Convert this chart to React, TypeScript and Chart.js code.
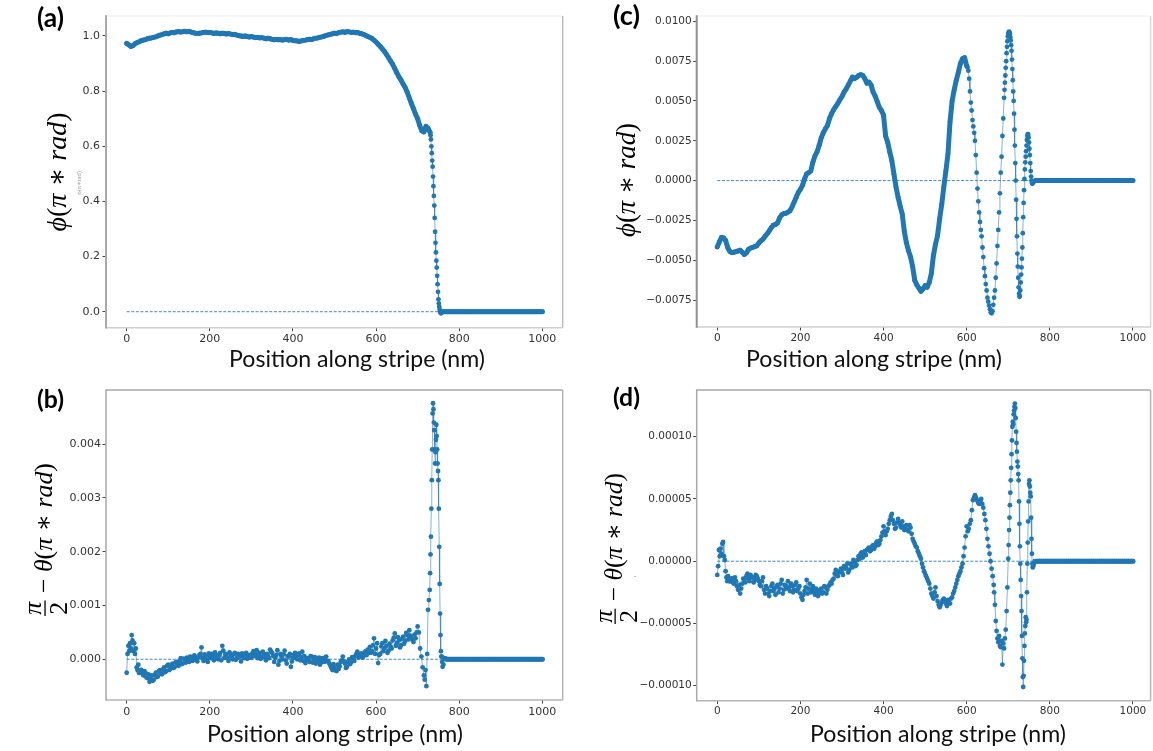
import React, { useEffect, useRef } from "react";
import { Chart, registerables } from "chart.js";
Chart.register(...registerables);

// ---------- shared axis data ----------
const xTicks = [0, 200, 400, 600, 800, 1000];
const xTickLabels = ["0", "200", "400", "600", "800", "1000"];
const zeroLineX = [0, 1000];
const zeroLineY = [0, 0];
// flat tail (all panels are zero past the stripe end)
const tailX = [770, 775, 780, 785, 790, 795, 800, 805, 810, 815, 820, 825, 830, 835, 840, 845, 850, 855, 860, 865, 870, 875, 880, 885, 890, 895, 900, 905, 910, 915, 920, 925, 930, 935, 940, 945, 950, 955, 960, 965, 970, 975, 980, 985, 990, 995, 1000];
const tailY = [0, 0, 0, 0, 0, 0, 0, 0, 0, 0, 0, 0, 0, 0, 0, 0, 0, 0, 0, 0, 0, 0, 0, 0, 0, 0, 0, 0, 0, 0, 0, 0, 0, 0, 0, 0, 0, 0, 0, 0, 0, 0, 0, 0, 0, 0, 0];
// in-between sample positions used by the noisy panels (b) and (d)
const xMid = [
  37.5, 42.5, 47.5, 52.5, 57.5, 62.5, 67.5, 72.5, 77.5, 82.5,
  87.5, 92.5, 97.5, 102.5, 107.5, 112.5, 117.5, 122.5, 127.5, 132.5,
  137.5, 142.5, 147.5, 152.5, 157.5, 162.5, 167.5, 172.5, 177.5, 182.5,
  187.5, 192.5, 197.5, 202.5, 207.5, 212.5, 217.5, 222.5, 227.5, 232.5,
  237.5, 242.5, 247.5, 252.5, 257.5, 262.5, 267.5, 272.5, 277.5, 282.5,
  287.5, 292.5, 297.5, 302.5, 307.5, 312.5, 317.5, 322.5, 327.5, 332.5,
  337.5, 342.5, 347.5, 352.5, 357.5, 362.5, 367.5, 372.5, 377.5, 382.5,
  387.5, 392.5, 397.5, 402.5, 407.5, 412.5, 417.5, 422.5, 427.5, 432.5,
  437.5, 442.5, 447.5, 452.5, 457.5, 462.5, 467.5, 472.5, 477.5, 482.5,
  487.5, 492.5, 497.5, 502.5, 507.5, 512.5, 517.5, 522.5, 527.5, 532.5,
  537.5, 542.5, 547.5, 552.5, 557.5, 562.5, 567.5, 572.5, 577.5, 582.5,
  587.5, 592.5, 597.5, 602.5, 607.5, 612.5, 617.5, 622.5, 627.5, 632.5,
  637.5, 642.5, 647.5, 652.5, 657.5, 662.5, 667.5, 672.5, 677.5, 682.5,
  687.5, 692.5, 697.5,
];

// ---------- panel (a): phi ----------
const aTicks = [0, 0.2, 0.4, 0.6, 0.8, 1.0];
const aTickLabels = ["0.0", "0.2", "0.4", "0.6", "0.8", "1.0"];
const xA = [
  0, 5, 10, 15, 20, 25, 30, 35, 40, 45,
  50, 55, 60, 65, 70, 75, 80, 85, 90, 95,
  100, 105, 110, 115, 120, 125, 130, 135, 140, 145,
  150, 155, 160, 165, 170, 175, 180, 185, 190, 195,
  200, 205, 210, 215, 220, 225, 230, 235, 240, 245,
  250, 255, 260, 265, 270, 275, 280, 285, 290, 295,
  300, 305, 310, 315, 320, 325, 330, 335, 340, 345,
  350, 355, 360, 365, 370, 375, 380, 385, 390, 395,
  400, 405, 410, 415, 420, 425, 430, 435, 440, 445,
  450, 455, 460, 465, 470, 475, 480, 485, 490, 495,
  500, 505, 510, 515, 520, 525, 530, 535, 540, 545,
  550, 555, 560, 565, 570, 575, 580, 585, 590, 595,
  600, 605, 610, 615, 620, 625, 630, 635, 640, 645,
  650, 655, 660, 665, 670, 675, 680, 685, 690, 695,
  700, 705, 710, 715, 720, 725, 730,
  731, 732, 733, 734, 735, 736, 737, 738, 739, 740,
  741, 742, 743, 744, 745, 746, 747, 748, 749, 750,
  751, 752, 753, 754, 755, 756, 757, 758, 760, 765,
];
const phiA = [
  0.973, 0.968, 0.962, 0.965, 0.972, 0.976, 0.979, 0.983, 0.985, 0.987,
  0.990, 0.992, 0.993, 0.995, 0.997, 1.000, 1.003, 1.005, 1.008, 1.010,
  1.008, 1.011, 1.013, 1.012, 1.015, 1.016, 1.014, 1.016, 1.017, 1.015,
  1.017, 1.014, 1.012, 1.010, 1.009, 1.010, 1.011, 1.013, 1.014, 1.013,
  1.013, 1.011, 1.009, 1.011, 1.010, 1.008, 1.010, 1.009, 1.007, 1.009,
  1.007, 1.005, 1.006, 1.003, 1.001, 1.000, 0.998, 1.000, 0.998, 0.996,
  0.998, 0.996, 0.994, 0.995, 0.993, 0.994, 0.992, 0.990, 0.992, 0.990,
  0.988, 0.986, 0.988, 0.986, 0.987, 0.985, 0.987, 0.988, 0.985, 0.987,
  0.984, 0.983, 0.982, 0.980, 0.982, 0.984, 0.985, 0.987, 0.988, 0.987,
  0.990, 0.992, 0.993, 0.995, 0.997, 0.999, 1.002, 1.004, 1.006, 1.008,
  1.010, 1.009, 1.012, 1.014, 1.015, 1.013, 1.016, 1.015, 1.013, 1.014,
  1.012, 1.013, 1.010, 1.008, 1.006, 1.002, 0.998, 0.995, 0.991, 0.985,
  0.978, 0.970, 0.962, 0.953, 0.944, 0.933, 0.921, 0.909, 0.897, 0.882,
  0.866, 0.852, 0.840, 0.826, 0.813, 0.796, 0.775, 0.755, 0.736, 0.716,
  0.700, 0.675, 0.656, 0.652, 0.672, 0.665, 0.650,
  0.640, 0.625, 0.600, 0.575, 0.548, 0.526, 0.490, 0.455, 0.420, 0.385,
  0.340, 0.290, 0.250, 0.215, 0.185, 0.160, 0.130, 0.100, 0.072, 0.045,
  0.030, 0.018, 0.008, 0.002, -0.003, -0.006, -0.005, -0.002, 0, 0,
];

// ---------- panel (b): pi/2 - theta ----------
const bTicks = [0, 0.001, 0.002, 0.003, 0.004];
const bTickLabels = ["0.000", "0.001", "0.002", "0.003", "0.004"];
const xB = [
  0, 2, 4, 6, 8, 10, 12, 14, 16, 18, 20, 22, 24, 26, 28, 30,
  35, 40, 45, 50, 55, 60, 65, 70, 75, 80,
  85, 90, 95, 100, 105, 110, 115, 120, 125, 130,
  135, 140, 145, 150, 155, 160, 165, 170, 175, 180,
  185, 190, 195, 200, 205, 210, 215, 220, 225, 230,
  235, 240, 245, 250, 255, 260, 265, 270, 275, 280,
  285, 290, 295, 300, 305, 310, 315, 320, 325, 330,
  335, 340, 345, 350, 355, 360, 365, 370, 375, 380,
  385, 390, 395, 400, 405, 410, 415, 420, 425, 430,
  435, 440, 445, 450, 455, 460, 465, 470, 475, 480,
  485, 490, 495, 500, 505, 510, 515, 520, 525, 530,
  535, 540, 545, 550, 555, 560, 565, 570, 575, 580,
  585, 590, 595, 600, 605, 610, 615, 620, 625, 630,
  635, 640, 645, 650, 655, 660, 665, 670, 675, 680,
  685, 690, 695, 700,
  703, 706, 709, 712, 715, 717, 719, 721, 723, 725, 727, 729,
  730, 731, 732, 733, 734, 735, 736, 737, 738, 739,
  740, 741, 742, 743, 744, 745, 746, 747, 748, 749,
  750, 751, 752, 753, 754, 755, 756, 757, 758, 759,
  760, 762, 764, 766,
];
const thetaB = [
  -2.5e-4, 1.0e-4, 2.5e-4, 1.5e-4, 3.0e-4, 2.0e-4, 4.5e-4, 3.5e-4, 1.5e-4, 3.0e-4, 1.0e-4, 2.0e-4, -1.5e-4, -2.0e-4, -1.0e-4, -2.5e-4,
  -2.0e-4, -3.0e-4, -2.5e-4, -3.5e-4, -4.2e-4, -3.0e-4, -3.8e-4, -2.5e-4, -3.2e-4, -2.0e-4,
  -2.8e-4, -1.5e-4, -2.2e-4, -1.0e-4, -1.8e-4, -0.8e-4, -1.5e-4, -0.5e-4, -1.2e-4, 0.2e-4,
  -0.8e-4, -0.3e-4, 0.3e-4, -0.5e-4, 0.4e-4, -0.2e-4, 0.5e-4, -0.4e-4, 0.8e-4, 2.2e-4,
  -0.3e-4, 0.6e-4, -0.5e-4, 0.4e-4, 1.0e-4, -0.2e-4, 0.8e-4, 0.0, 1.2e-4, 2.5e-4,
  0.3e-4, 1.0e-4, -0.3e-4, 0.8e-4, 0.0, 1.2e-4, 0.2e-4, 0.6e-4, -0.4e-4, 0.5e-4,
  0.9e-4, 0.1e-4, 0.8e-4, 0.3e-4, 1.5e-4, 1.0e-4, 0.2e-4, 1.2e-4, 0.4e-4, 0.9e-4,
  -0.2e-4, 0.6e-4, 1.8e-4, 1.2e-4, -0.5e-4, 0.8e-4, -1.0e-4, 1.0e-4, 0.0, 1.6e-4,
  -0.8e-4, 0.5e-4, -1.4e-4, 0.3e-4, 1.2e-4, 0.0, 1.1e-4, 0.4e-4, -0.3e-4, -0.7e-4,
  0.2e-4, -0.5e-4, 0.5e-4, 0.1e-4, -0.8e-4, -0.2e-4, -1.0e-4, 0.2e-4, -0.5e-4, 0.5e-4,
  -0.3e-4, -1.2e-4, -2.0e-4, -1.5e-4, -2.2e-4, -1.8e-4, -0.5e-4, 0.5e-4, -0.8e-4, -1.4e-4,
  0.0, -0.6e-4, 0.2e-4, 0.6e-4, 1.4e-4, 0.5e-4, 1.1e-4, 0.6e-4, 1.5e-4, 1.8e-4,
  2.3e-4, 1.5e-4, 3.9e-4, 2.0e-4, -0.7e-4, 1.0e-4, 3.0e-4, 2.0e-4, 2.5e-4, 1.6e-4,
  2.3e-4, 3.5e-4, 4.8e-4, 3.0e-4, 3.5e-4, 2.6e-4, 4.2e-4, 3.4e-4, 4.5e-4, 5.4e-4,
  4.0e-4, 3.2e-4, 3.9e-4, 6.1e-4,
  5.0e-4, 2.0e-4, 0.5e-4, -1.5e-4, -3.0e-4, -3.8e-4, -2.0e-4, -5.0e-4, 1.0e-4, 9.2e-4, 11.0e-4, 12.9e-4,
  16.0e-4, 19.5e-4, 22.8e-4, 28.0e-4, 33.3e-4, 39.0e-4, 45.7e-4, 47.6e-4, 46.5e-4, 44.0e-4,
  42.6e-4, 39.0e-4, 36.4e-4, 38.5e-4, 40.8e-4, 43.6e-4, 41.5e-4, 39.0e-4, 36.4e-4, 35.0e-4,
  33.3e-4, 28.0e-4, 20.9e-4, 14.0e-4, 8.5e-4, 4.5e-4, 1.5e-4, 0.5e-4, 0.5e-4, -0.5e-4,
  -1.4e-4, -1.0e-4, 0.2e-4, 0.2e-4,
];
// extra (b) samples read at the in-between positions xMid
const thetaBMid = [
  -2.6e-4, -2.2e-4, -3.4e-4, -2.8e-4, -3.6e-4, -4.0e-4, -2.9e-4, -3.3e-4, -2.2e-4, -2.6e-4,
  -1.9e-4, -2.4e-4, -1.2e-4, -2.0e-4, -1.3e-4, -1.6e-4, -0.6e-4, -1.0e-4, -0.4e-4, -0.9e-4,
  0.1e-4, -0.6e-4, 0.0, 0.5e-4, -0.3e-4, 0.7e-4, 0.1e-4, 0.3e-4, 1.0e-4, 0.2e-4,
  0.9e-4, -0.1e-4, 1.1e-4, 0.2e-4, 0.5e-4, 1.3e-4, 0.4e-4, 0.7e-4, -0.2e-4, 1.6e-4,
  0.9e-4, 0.2e-4, 1.3e-4, 0.4e-4, 0.9e-4, -0.1e-4, 1.0e-4, 0.5e-4, 1.1e-4, 0.2e-4,
  1.2e-4, 0.5e-4, 0.3e-4, 1.1e-4, 0.6e-4, 1.7e-4, 0.7e-4, 0.1e-4, 1.4e-4, 0.3e-4,
  1.0e-4, 0.2e-4, 1.4e-4, 0.6e-4, 0.3e-4, 1.7e-4, -0.3e-4, 0.5e-4, 0.9e-4, -0.2e-4,
  0.6e-4, 1.0e-4, -0.4e-4, 0.8e-4, 0.2e-4, 0.8e-4, -0.2e-4, 1.4e-4, 0.6e-4, 0.0,
  -0.2e-4, 0.6e-4, -0.6e-4, 0.4e-4, -0.3e-4, 0.3e-4, -0.6e-4, -0.2e-4, 0.3e-4, -0.4e-4,
  -0.8e-4, -1.6e-4, -0.9e-4, -2.1e-4, -1.0e-4, -1.3e-4, -0.2e-4, -0.4e-4, -1.6e-4, -0.5e-4,
  -0.9e-4, 0.4e-4, -0.3e-4, 1.0e-4, 0.3e-4, 0.9e-4, 0.3e-4, 1.3e-4, 0.8e-4, 1.2e-4,
  1.2e-4, 2.6e-4, 1.0e-4, 3.0e-4, 0.8e-4, 2.4e-4, 1.5e-4, 3.4e-4, 1.2e-4, 2.9e-4,
  2.0e-4, 4.0e-4, 2.5e-4, 4.1e-4, 2.2e-4, 3.8e-4, 2.9e-4, 4.9e-4, 3.7e-4, 4.4e-4,
  3.6e-4, 4.6e-4, 5.0e-4,
];

// ---------- panel (c): phi ----------
const cTicks = [-0.0075, -0.005, -0.0025, 0, 0.0025, 0.005, 0.0075, 0.01];
const cTickLabels = ["\u22120.0075", "\u22120.0050", "\u22120.0025", "0.0000", "0.0025", "0.0050", "0.0075", "0.0100"];
const xC = [
  0, 5, 10, 15, 20, 25, 30, 35, 40, 45,
  50, 55, 60, 65, 70, 75, 80, 85, 90, 95,
  100, 105, 110, 115, 120, 125, 130, 135, 140, 145,
  150, 155, 160, 165, 170, 175, 180, 185, 190, 195,
  200, 205, 210, 215, 220, 225, 230, 235, 240, 245,
  250, 255, 260, 265, 270, 275, 280, 285, 290, 295,
  300, 305, 310, 315, 320, 325, 330, 335, 340, 345,
  350, 355, 360, 365, 370, 375, 380, 385, 390, 395,
  400, 405, 410, 415, 420, 425, 430, 435, 440, 445,
  450, 455, 460, 465, 470, 475, 480, 485, 490, 495,
  500, 505, 510, 515, 520, 525, 530, 535, 540, 545,
  550, 555, 560, 565, 570, 575, 580, 585, 590, 595,
  600,
  602, 604, 606, 608, 610, 612, 614, 616, 618, 620,
  622, 624, 626, 628, 630, 632, 634, 636, 638, 640,
  642, 644, 646, 648, 650, 652, 654, 656, 658, 660,
  662, 664, 666, 668, 670, 672, 674, 676, 678, 680,
  682, 684, 686, 688, 690,
  691, 692, 693, 694, 695, 696, 697, 698, 699, 700,
  701, 702, 703, 704, 705, 706, 707, 708, 709, 710,
  711, 712, 713, 714, 715, 716, 717, 718, 719, 720,
  721, 722, 723, 724, 725, 726, 727, 728, 729, 730,
  731, 732, 733, 734, 735, 736, 737, 738, 739, 740,
  741, 742, 743, 744, 745, 746, 747, 748, 749, 750,
  751, 752, 753, 754, 755, 756, 757, 758, 759, 760,
  765,
];
const phiC = [
  -4.16e-3, -3.85e-3, -3.57e-3, -3.60e-3, -3.75e-3, -4.20e-3, -4.45e-3, -4.52e-3, -4.50e-3, -4.46e-3,
  -4.42e-3, -4.37e-3, -4.50e-3, -4.64e-3, -4.55e-3, -4.32e-3, -4.24e-3, -4.20e-3, -4.14e-3, -4.10e-3,
  -3.92e-3, -3.78e-3, -3.68e-3, -3.50e-3, -3.34e-3, -3.16e-3, -2.96e-3, -2.80e-3, -2.76e-3, -2.66e-3,
  -2.34e-3, -2.15e-3, -2.07e-3, -2.05e-3, -1.98e-3, -1.89e-3, -1.65e-3, -1.35e-3, -1.05e-3, -0.74e-3,
  -0.55e-3, -0.30e-3, 0.10e-3, 0.42e-3, 0.50e-3, 0.60e-3, 1.15e-3, 1.55e-3, 1.80e-3, 2.20e-3,
  2.68e-3, 3.00e-3, 3.25e-3, 3.45e-3, 3.90e-3, 4.20e-3, 4.45e-3, 4.65e-3, 4.85e-3, 5.08e-3,
  5.28e-3, 5.55e-3, 5.75e-3, 6.00e-3, 6.25e-3, 6.50e-3, 6.40e-3, 6.48e-3, 6.60e-3, 6.65e-3,
  6.60e-3, 6.40e-3, 6.12e-3, 6.18e-3, 6.00e-3, 5.55e-3, 5.30e-3, 4.95e-3, 4.60e-3, 4.40e-3,
  4.10e-3, 2.80e-3, 2.40e-3, 1.80e-3, 1.25e-3, 0.40e-3, -0.40e-3, -1.04e-3, -1.60e-3, -2.10e-3,
  -3.20e-3, -3.90e-3, -4.40e-3, -4.80e-3, -5.40e-3, -6.25e-3, -6.55e-3, -6.75e-3, -6.95e-3, -6.80e-3,
  -6.60e-3, -6.70e-3, -6.40e-3, -5.83e-3, -4.70e-3, -4.00e-3, -3.45e-3, -2.40e-3, -1.50e-3, -0.40e-3,
  0.60e-3, 1.67e-3, 3.70e-3, 5.00e-3, 5.70e-3, 6.30e-3, 6.80e-3, 7.35e-3, 7.65e-3, 7.72e-3,
  7.20e-3,
  7.12e-3, 6.90e-3, 6.40e-3, 5.60e-3, 4.90e-3, 4.40e-3, 3.80e-3, 3.40e-3, 3.00e-3, 2.50e-3,
  1.60e-3, 0.50e-3, -0.50e-3, -1.30e-3, -2.00e-3, -2.60e-3, -3.10e-3, -3.50e-3, -4.20e-3, -4.80e-3,
  -5.50e-3, -6.00e-3, -6.50e-3, -6.90e-3, -7.35e-3, -7.60e-3, -7.85e-3, -8.08e-3, -8.28e-3, -8.33e-3,
  -8.20e-3, -7.80e-3, -7.35e-3, -6.90e-3, -6.10e-3, -5.20e-3, -4.10e-3, -3.10e-3, -2.00e-3, -0.80e-3,
  0.50e-3, 1.50e-3, 2.80e-3, 3.90e-3, 5.20e-3,
  5.70e-3, 6.15e-3, 6.60e-3, 7.08e-3, 7.50e-3, 8.00e-3, 8.40e-3, 8.75e-3, 9.05e-3, 9.20e-3,
  9.30e-3, 9.35e-3, 9.30e-3, 9.20e-3, 9.00e-3, 8.80e-3, 8.50e-3, 8.15e-3, 7.60e-3, 7.00e-3,
  6.30e-3, 5.60e-3, 5.00e-3, 4.20e-3, 3.20e-3, 2.20e-3, 1.10e-3, 0.00, -1.20e-3, -2.40e-3,
  -3.50e-3, -4.58e-3, -5.40e-3, -6.10e-3, -6.70e-3, -7.10e-3, -7.30e-3, -7.25e-3, -6.90e-3, -6.40e-3,
  -5.90e-3, -5.45e-3, -4.90e-3, -4.20e-3, -3.30e-3, -2.30e-3, -1.40e-3, -0.60e-3, 0.10e-3, 0.70e-3,
  1.15e-3, 1.50e-3, 1.85e-3, 2.20e-3, 2.55e-3, 2.80e-3, 2.92e-3, 2.90e-3, 2.70e-3, 2.40e-3,
  2.00e-3, 1.60e-3, 1.10e-3, 0.60e-3, 0.25e-3, 0.00, -0.15e-3, -0.20e-3, -0.15e-3, -0.08e-3,
  0,
];

// ---------- panel (d): pi/2 - theta ----------
const dTicks = [-0.0001, -0.00005, 0, 0.00005, 0.0001];
const dTickLabels = ["\u22120.00010", "\u22120.00005", "0.00000", "0.00005", "0.00010"];
const xD = [
  0, 2, 4, 6, 8, 10, 12, 14, 16, 18, 20, 22, 24, 26, 28, 30,
  35, 40, 45, 50, 55, 60, 65, 70, 75, 80,
  85, 90, 95, 100, 105, 110, 115, 120, 125, 130,
  135, 140, 145, 150, 155, 160, 165, 170, 175, 180,
  185, 190, 195, 200, 205, 210, 215, 220, 225, 230,
  235, 240, 245, 250, 255, 260, 265, 270, 275, 280,
  285, 290, 295, 300, 305, 310, 315, 320, 325, 330,
  335, 340, 345, 350, 355, 360, 365, 370, 375, 380,
  385, 390, 395, 400, 405, 410, 415, 420, 425, 430,
  435, 440, 445, 450, 455, 460, 465, 470, 475, 480,
  485, 490, 495, 500, 505, 510, 515, 520, 525, 530,
  535, 540, 545, 550, 555, 560, 565, 570, 575, 580,
  585, 590, 595, 600, 605, 610, 615, 620, 625, 630,
  635, 640, 645, 650, 655, 660, 665,
  666, 668, 670, 672, 674, 676, 678, 680, 682, 684, 686, 688, 690, 692, 694, 696, 698, 700,
  701, 702, 703, 704, 705, 706, 707, 708, 709, 710,
  711, 712, 713, 714, 715, 716, 717, 718, 719, 720,
  721, 722, 723, 724, 725, 726, 727, 728, 729, 730,
  731, 732, 733, 734, 735, 736, 737, 738, 739, 740,
  741, 742, 743, 744, 745, 746, 747, 748, 749, 750,
  751, 752, 753, 754, 755, 756, 757, 758, 759, 760,
  762, 764, 766,
];
const thetaD = [
  -1.1e-5, -0.4e-5, 0.9e-5, 0.4e-5, 1.0e-5, 0.6e-5, 1.4e-5, 1.55e-5, 0.4e-5, 0.1e-5, -0.8e-5, -1.3e-5, -1.6e-5, -1.2e-5, -1.5e-5, -1.6e-5,
  -1.4e-5, -1.8e-5, -1.6e-5, -2.3e-5, -2.6e-5, -1.8e-5, -1.5e-5, -1.2e-5, -1.4e-5, -1.1e-5,
  -1.3e-5, -1.5e-5, -1.2e-5, -1.6e-5, -2.0e-5, -1.3e-5, -2.6e-5, -2.2e-5, -2.8e-5, -2.0e-5,
  -2.4e-5, -2.7e-5, -1.9e-5, -2.2e-5, -1.5e-5, -2.3e-5, -2.0e-5, -1.6e-5, -2.4e-5, -2.0e-5,
  -2.3e-5, -1.7e-5, -2.2e-5, -2.6e-5, -3.1e-5, -2.4e-5, -1.5e-5, -2.2e-5, -2.5e-5, -2.0e-5,
  -2.7e-5, -2.4e-5, -2.6e-5, -2.2e-5, -2.5e-5, -2.1e-5, -2.3e-5, -1.9e-5, -1.8e-5, -1.4e-5,
  -0.7e-5, -1.2e-5, -0.8e-5, -0.9e-5, -0.4e-5, -0.5e-5, -0.9e-5, -0.2e-5, -0.5e-5, -0.1e-5,
  -0.3e-5, 0.4e-5, 0.6e-5, 0.3e-5, 0.8e-5, 0.9e-5, 1.1e-5, 0.9e-5, 1.3e-5, 1.2e-5,
  1.6e-5, 1.4e-5, 2.0e-5, 2.8e-5, 2.1e-5, 2.6e-5, 3.3e-5, 3.8e-5, 3.0e-5, 2.7e-5,
  3.4e-5, 2.9e-5, 3.2e-5, 2.5e-5, 2.9e-5, 2.4e-5, 2.7e-5, 1.8e-5, 1.4e-5, 1.1e-5,
  0.6e-5, 0.2e-5, -0.5e-5, -1.0e-5, -1.4e-5, -1.8e-5, -2.6e-5, -3.0e-5, -2.1e-5, -3.2e-5,
  -3.7e-5, -3.3e-5, -3.0e-5, -3.4e-5, -3.1e-5, -3.4e-5, -2.9e-5, -2.4e-5, -1.8e-5, -1.2e-5,
  -0.8e-5, -0.2e-5, 1.1e-5, 2.8e-5, 2.6e-5, 3.3e-5, 4.9e-5, 5.3e-5, 4.9e-5, 4.6e-5,
  5.0e-5, 4.3e-5, 3.3e-5, 1.8e-5, 0.6e-5, -0.6e-5, -1.9e-5,
  -2.5e-5, -3.5e-5, -4.8e-5, -5.6e-5, -6.2e-5, -6.5e-5, -6.0e-5, -6.8e-5, -6.9e-5, -6.4e-5, -8.3e-5, -6.6e-5, -7.0e-5, -6.2e-5, -5.5e-5, -4.0e-5, -2.1e-5, 0.2e-5,
  1.3e-5, 2.5e-5, 3.5e-5, 4.5e-5, 5.5e-5, 6.5e-5, 7.5e-5, 8.6e-5, 9.7e-5, 10.8e-5,
  11.2e-5, 11.0e-5, 11.8e-5, 12.1e-5, 12.4e-5, 12.66e-5, 12.3e-5, 11.5e-5, 10.4e-5, 9.5e-5,
  8.8e-5, 8.0e-5, 7.6e-5, 7.0e-5, 6.5e-5, 4.8e-5, 3.0e-5, 1.2e-5, -0.2e-5, -1.5e-5,
  -2.8e-5, -4.0e-5, -6.0e-5, -7.8e-5, -9.3e-5, -10.1e-5, -9.2e-5, -8.0e-5, -6.8e-5, -5.8e-5,
  -5.2e-5, -4.5e-5, -4.9e-5, -4.7e-5, -2.5e-5, -0.2e-5, 1.5e-5, 3.2e-5, 4.8e-5, 6.2e-5,
  6.5e-5, 6.0e-5, 5.5e-5, 5.2e-5, 3.5e-5, 1.8e-5, 0.6e-5, -0.2e-5, -0.5e-5, -0.4e-5,
  -0.2e-5, 0.0, 0.0,
];
// extra (d) samples read at the in-between positions xMid (first 126 of them)
const thetaDMid = [
  -1.7e-5, -1.3e-5, -2.0e-5, -1.9e-5, -2.2e-5, -1.4e-5, -1.7e-5, -1.0e-5, -1.6e-5, -1.3e-5,
  -1.7e-5, -1.1e-5, -1.4e-5, -1.9e-5, -1.6e-5, -2.3e-5, -2.0e-5, -2.6e-5, -2.4e-5, -1.8e-5,
  -2.2e-5, -2.0e-5, -2.5e-5, -1.8e-5, -2.6e-5, -1.9e-5, -2.2e-5, -2.1e-5, -1.8e-5, -2.5e-5,
  -1.9e-5, -2.4e-5, -2.0e-5, -2.9e-5, -2.7e-5, -2.1e-5, -2.6e-5, -1.8e-5, -2.3e-5, -2.5e-5,
  -2.2e-5, -2.8e-5, -2.3e-5, -2.6e-5, -2.0e-5, -2.6e-5, -2.0e-5, -1.7e-5, -1.5e-5, -1.0e-5,
  -1.1e-5, -0.9e-5, -0.6e-5, -1.1e-5, -0.6e-5, -0.2e-5, -0.7e-5, -0.3e-5, 0.1e-5, -0.4e-5,
  0.1e-5, 0.2e-5, 0.7e-5, 0.6e-5, 0.5e-5, 1.0e-5, 0.8e-5, 1.2e-5, 1.0e-5, 1.5e-5,
  1.3e-5, 1.7e-5, 2.3e-5, 2.4e-5, 2.4e-5, 3.0e-5, 3.6e-5, 3.3e-5, 2.6e-5, 3.1e-5,
  3.1e-5, 2.7e-5, 2.8e-5, 2.7e-5, 2.5e-5, 2.9e-5, 2.2e-5, 1.6e-5, 1.2e-5, 0.8e-5,
  0.4e-5, -0.2e-5, -0.8e-5, -1.2e-5, -1.6e-5, -2.2e-5, -2.8e-5, -2.5e-5, -2.8e-5, -3.5e-5,
  -3.5e-5, -3.1e-5, -3.2e-5, -3.6e-5, -3.3e-5, -3.0e-5, -2.6e-5, -2.1e-5, -1.5e-5, -1.0e-5,
  -0.5e-5, 0.4e-5, 2.0e-5, 2.4e-5, 3.0e-5, 4.1e-5, 5.1e-5, 5.1e-5, 4.7e-5, 4.8e-5,
  4.6e-5, 3.8e-5, 2.6e-5, 1.2e-5, 0.0, -1.2e-5,
];

// ---------- styling / layout ----------
const BLUE = "#1f77b4";
const SANS = "'DejaVu Sans', sans-serif";
const TITLE = "Lato, 'Open Sans', sans-serif";
const MATH = "'Liberation Serif', 'DejaVu Serif', serif";
const XTITLE = "Position along stripe (nm)";

type Spine = [string, number];
type PanelCfg = any;

const panels: PanelCfg[] = [
  {
    id: "a", left: 0, top: 0, w: 580, h: 380,
    area: { l: 106, t: 16, r: 562.7, b: 327.7 },
    xMin: -49.8, xMax: 1049, yMin: -0.058, yMax: 1.0725,
    xs: xA, ys: phiA, yTicks: aTicks, yLabels: aTickLabels,
    tickFont: 11, tickLen: 3.5, yPad: 2.5, xPad: 1,
    spines: { left: ["#a9a9a9", 2], top: ["#ececec", 1], right: ["#bdbdbd", 1.5], bottom: ["#cfcfcf", 1.5] },
    tag: { t: "(a)", x: 37, y: 27 },
    xTitle: { cx: 357, y: 367 },
    yTitle: { kind: "phi", bx: 66, cy: 172, len: 119 },
    ghost: { t: "\u03d5(\u03c0\u2217rad)", x: 81, y: 183, size: 6.5 },
  },
  {
    id: "b", left: 0, top: 380, w: 580, h: 371,
    area: { l: 106, t: 10, r: 562.7, b: 320 },
    xMin: -49.8, xMax: 1049, yMin: -0.000757, yMax: 0.005006,
    xs: xB, ys: thetaB, mx: xMid, my: thetaBMid, yTicks: bTicks, yLabels: bTickLabels,
    tickFont: 11, tickLen: 3.5, yPad: 1.5, xPad: 2,
    spines: { left: ["#a9a9a9", 1.5], top: ["#a9a9a9", 1.5], right: ["#b5b5b5", 1.5], bottom: ["#b5b5b5", 1.5] },
    tag: { t: "(b)", x: 37, y: 408 },
    xTitle: { cx: 335, y: 742 },
    yTitle: { kind: "theta", bx: 52, y0: 617, y1: 463 },
  },
  {
    id: "c", left: 580, top: 0, w: 573, h: 380,
    area: { l: 116.7, t: 16, r: 571, b: 327 },
    xMin: -49.5, xMax: 1042.5, yMin: -0.009193, yMax: 0.010335,
    xs: xC, ys: phiC, yTicks: cTicks, yLabels: cTickLabels,
    tickFont: 10.5, tickLen: 3.5, yPad: 1.5, xPad: 1.5,
    spines: { left: ["#8f8f8f", 2], top: ["#ececec", 1], right: ["#dadada", 1.5], bottom: ["#cfcfcf", 1.5] },
    tag: { t: "(c)", x: 613, y: 25 },
    xTitle: { cx: 874, y: 367 },
    yTitle: { kind: "phi", bx: 635, cy: 180, len: 114 },
  },
  {
    id: "d", left: 580, top: 380, w: 573, h: 371,
    area: { l: 116.7, t: 10, r: 571, b: 320.7 },
    xMin: -49.5, xMax: 1042.5, yMin: -0.000112, yMax: 0.0001375,
    xs: xD, ys: thetaD, mx: xMid, my: thetaDMid, yTicks: dTicks, yLabels: dTickLabels,
    tickFont: 10.5, tickLen: 3.5, yPad: 1.5, xPad: 0.5,
    spines: { left: ["#a9a9a9", 1.5], top: ["#a9a9a9", 1.5], right: ["#b5b5b5", 1.5], bottom: ["#b5b5b5", 1.5] },
    tag: { t: "(d)", x: 613, y: 406 },
    xTitle: { cx: 938, y: 742 },
    yTitle: { kind: "theta", bx: 622, y0: 625, y1: 473 },
    ghost: { t: "-", x: 635, y: 579, size: 8 },
  },
];

type Seg = { t: string; it?: boolean };
const phiSegs: Seg[] = [
  { t: "\u03d5", it: true }, { t: "(" }, { t: "\u03c0", it: true }, { t: " \u2217 " }, { t: "rad", it: true }, { t: ")" },
];
const thetaSegs: Seg[] = [
  { t: " \u2212 " }, { t: "\u03b8", it: true }, { t: "(" }, { t: "\u03c0", it: true }, { t: " \u2217 " }, { t: "rad", it: true }, { t: ")" },
];

function segFont(s: Seg, size: number) {
  return `${s.it ? "italic " : ""}${size}px ${MATH}`;
}
function segsWidth(ctx: CanvasRenderingContext2D, segs: Seg[], size: number) {
  let w = 0;
  for (const s of segs) { ctx.font = segFont(s, size); w += ctx.measureText(s.t).width; }
  return w;
}
function drawSegs(ctx: CanvasRenderingContext2D, segs: Seg[], size: number, x0: number) {
  let x = x0;
  for (const s of segs) {
    ctx.font = segFont(s, size);
    ctx.fillText(s.t, x, 0);
    x += ctx.measureText(s.t).width;
  }
  return x;
}
function fracWidth(ctx: CanvasRenderingContext2D, size: number) {
  ctx.font = `italic ${size}px ${MATH}`;
  const wn = ctx.measureText("\u03c0").width;
  ctx.font = `${size}px ${MATH}`;
  const wd = ctx.measureText("2").width;
  return Math.max(wn, wd) + size * 0.18;
}
function drawFrac(ctx: CanvasRenderingContext2D, size: number, x0: number) {
  const fw = fracWidth(ctx, size);
  const axis = -0.27 * size;
  ctx.fillRect(x0 + size * 0.04, axis - size * 0.025, fw - size * 0.08, size * 0.05);
  ctx.textAlign = "center";
  ctx.font = `italic ${size}px ${MATH}`;
  ctx.fillText("\u03c0", x0 + fw / 2, axis - size * 0.14);
  ctx.font = `${size}px ${MATH}`;
  ctx.fillText("2", x0 + fw / 2, axis + size * 0.86);
  ctx.textAlign = "left";
  return x0 + fw;
}

function makeOverlay(p: PanelCfg) {
  const line = (ctx: CanvasRenderingContext2D, x1: number, y1: number, x2: number, y2: number, s: Spine) => {
    ctx.strokeStyle = s[0];
    ctx.lineWidth = s[1];
    ctx.beginPath();
    ctx.moveTo(x1, y1);
    ctx.lineTo(x2, y2);
    ctx.stroke();
  };
  return {
    id: "overlay_" + p.id,
    beforeDatasetsDraw(chart: any) {
      const ctx: CanvasRenderingContext2D = chart.ctx;
      const a = chart.chartArea;
      ctx.save();
      line(ctx, a.left, a.top, a.right, a.top, p.spines.top);
      line(ctx, a.right, a.top, a.right, a.bottom, p.spines.right);
      line(ctx, a.left, a.bottom, a.right, a.bottom, p.spines.bottom);
      line(ctx, a.left, a.top - 0.75, a.left, a.bottom + 0.75, p.spines.left);
      ctx.restore();
    },
    afterDraw(chart: any) {
      const ctx: CanvasRenderingContext2D = chart.ctx;
      const ox = p.left, oy = p.top;
      ctx.save();
      ctx.fillStyle = "#000";
      ctx.textBaseline = "alphabetic";
      // panel tag
      ctx.font = `bold 100px ${TITLE}`;
      const tagSize = 100 * 27 / ctx.measureText(p.tag.t).width;
      ctx.font = `bold ${tagSize}px ${TITLE}`;
      ctx.textAlign = "left";
      ctx.fillText(p.tag.t, p.tag.x - ox, p.tag.y - oy);
      // x title
      ctx.font = `100px ${TITLE}`;
      const xs = 100 * 256 / ctx.measureText(XTITLE).width;
      ctx.font = `${xs}px ${TITLE}`;
      ctx.textAlign = "center";
      ctx.fillStyle = "#111";
      ctx.fillText(XTITLE, p.xTitle.cx - ox, p.xTitle.y - oy);
      ctx.fillStyle = "#000";
      ctx.textAlign = "left";
      // y title (rotated)
      const yt = p.yTitle;
      if (yt.kind === "phi") {
        const size = 100 * yt.len / segsWidth(ctx, phiSegs, 100);
        const w = segsWidth(ctx, phiSegs, size);
        ctx.save();
        ctx.translate(yt.bx - ox, yt.cy - oy);
        ctx.rotate(-Math.PI / 2);
        drawSegs(ctx, phiSegs, size, -w / 2);
        ctx.restore();
      } else {
        const len = yt.y0 - yt.y1;
        const unit = fracWidth(ctx, 100) + segsWidth(ctx, thetaSegs, 100);
        const size = 100 * len / unit;
        ctx.save();
        ctx.translate(yt.bx - ox, yt.y0 - oy);
        ctx.rotate(-Math.PI / 2);
        const x1 = drawFrac(ctx, size, 0);
        drawSegs(ctx, thetaSegs, size, x1);
        ctx.restore();
      }
      // faint artefact text
      if (p.ghost) {
        ctx.save();
        ctx.fillStyle = "#9a9a9a";
        ctx.font = `${p.ghost.size}px ${MATH}`;
        ctx.textAlign = "center";
        ctx.translate(p.ghost.x - ox, p.ghost.y - oy);
        if (p.id === "a") ctx.rotate(-Math.PI / 2);
        ctx.fillText(p.ghost.t, 0, 0);
        ctx.restore();
      }
      ctx.restore();
    },
  };
}

function Panel({ p }: { p: PanelCfg }) {
  const ref = useRef<HTMLCanvasElement | null>(null);
  useEffect(() => {
    const canvas = ref.current;
    if (!canvas) return;
    const pts: { x: number; y: number }[] = [];
    p.xs.forEach((x: number, i: number) => pts.push({ x, y: p.ys[i] }));
    if (p.mx) p.my.forEach((y: number, i: number) => pts.push({ x: p.mx[i], y }));
    tailX.forEach((x, i) => pts.push({ x, y: tailY[i] }));
    pts.sort((a, b) => a.x - b.x);
    const zero = zeroLineX.map((x, i) => ({ x, y: zeroLineY[i] }));
    const tickColor = "#444";
    // dense (5 nm) stretches merge into a solid band, sparse steep stretches show single dots
    const dense = (c: any) => pts[c.p1DataIndex].x - pts[c.p0DataIndex].x >= 4.5;
    const chart = new Chart(canvas, {
      type: "scatter",
      data: {
        datasets: [
          {
            data: pts,
            showLine: true,
            borderColor: "rgba(31,119,180,0.55)",
            borderWidth: 1,
            borderJoinStyle: "round",
            borderCapStyle: "round",
            segment: {
              borderWidth: (c: any) => (dense(c) ? 5 : 1),
              borderColor: (c: any) => (dense(c) ? BLUE : "rgba(31,119,180,0.55)"),
            },
            pointRadius: 2.4,
            pointHoverRadius: 2.4,
            pointBackgroundColor: BLUE,
            pointBorderWidth: 0,
            pointBorderColor: BLUE,
          },
          {
            data: zero,
            showLine: true,
            borderColor: "rgba(31,119,180,0.85)",
            borderWidth: 1,
            borderDash: [3, 1.6],
            pointRadius: 0,
            pointHoverRadius: 0,
          },
        ],
      },
      options: {
        animation: false,
        responsive: false,
        maintainAspectRatio: false,
        events: [],
        layout: { padding: { left: 0, top: p.area.t, right: p.w - p.area.r, bottom: 0 } },
        plugins: { legend: { display: false }, tooltip: { enabled: false }, title: { display: false } },
        scales: {
          x: {
            type: "linear",
            min: p.xMin,
            max: p.xMax,
            afterFit: (s: any) => { s.height = p.h - p.area.b; },
            afterBuildTicks: (s: any) => { s.ticks = xTicks.map((v) => ({ value: v })); },
            ticks: {
              autoSkip: false, maxRotation: 0, minRotation: 0,
              padding: p.xPad,
              color: "#333",
              font: { family: SANS, size: p.tickFont },
              callback: (_v: any, i: number) => xTickLabels[i],
            },
            grid: { display: true, drawOnChartArea: false, drawTicks: true, tickLength: p.tickLen, color: tickColor, lineWidth: 1 },
            border: { display: false },
          },
          y: {
            type: "linear",
            min: p.yMin,
            max: p.yMax,
            afterFit: (s: any) => { s.width = p.area.l; },
            afterBuildTicks: (s: any) => { s.ticks = p.yTicks.map((v: number) => ({ value: v })); },
            ticks: {
              autoSkip: false,
              padding: p.yPad,
              color: "#333",
              font: { family: SANS, size: p.tickFont },
              callback: (_v: any, i: number) => p.yLabels[i],
            },
            grid: { display: true, drawOnChartArea: false, drawTicks: true, tickLength: p.tickLen, color: tickColor, lineWidth: 1 },
            border: { display: false },
          },
        },
      },
      plugins: [makeOverlay(p)],
    } as any);
    return () => chart.destroy();
  }, [p]);
  return (
    <canvas
      ref={ref}
      width={p.w}
      height={p.h}
      style={{ position: "absolute", left: p.left, top: p.top, width: p.w, height: p.h }}
    />
  );
}

export default function App() {
  return (
    <div style={{ position: "absolute", left: 0, top: 0, width: 1153, height: 751, background: "#fff", overflow: "hidden" }}>
      {panels.map((p) => (
        <Panel key={p.id} p={p} />
      ))}
    </div>
  );
}
